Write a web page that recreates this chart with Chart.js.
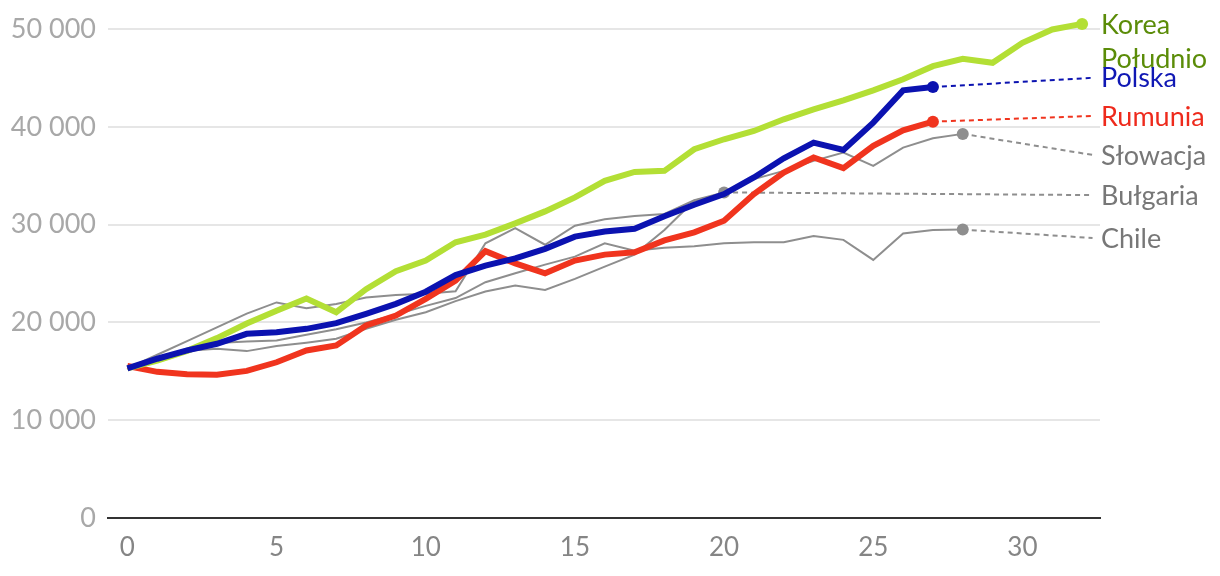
<!DOCTYPE html>
<html>
<head>
<meta charset="utf-8">
<script src="https://cdn.jsdelivr.net/npm/chart.js@4.4.1/dist/chart.umd.min.js"></script>
<style>
    html, body { margin: 0; padding: 0; background: #fff; }
    #wrap { width: 1220px; height: 576px; }
</style>
</head>
<body>
<div id="wrap"><canvas id="chart" width="1220" height="576"></canvas></div>
<script>
// values per year index (0 = start)
const korea = [15300, 16100, 17100, 18400, 19900, 21200, 22450, 21050, 23400, 25240, 26330, 28200, 28980, 30140, 31360, 32790, 34490, 35400, 35510, 37720, 38740, 39590, 40780, 41800, 42720, 43740, 44880, 46220, 46970, 46560, 48600, 49970, 50540];
const polska = [15300, 16290, 17140, 17820, 18840, 19010, 19350, 19930, 20880, 21900, 23150, 24850, 25820, 26560, 27530, 28780, 29310, 29580, 30870, 32040, 33130, 34830, 36800, 38400, 37650, 40440, 43740, 44080];
const rumunia = [15550, 14950, 14700, 14650, 15050, 15930, 17130, 17650, 19690, 20710, 22410, 24290, 27300, 26050, 25030, 26330, 26940, 27180, 28400, 29220, 30410, 33130, 35340, 36870, 35780, 38060, 39660, 40540];
const slowacja = [15300, 16400, 17100, 17300, 17070, 17590, 17930, 18330, 19350, 20270, 21050, 22180, 23160, 23780, 23330, 24460, 25710, 26940, 29450, 32450, 33200, 34660, 35510, 36530, 37380, 36020, 37890, 38840, 39290];
const bulgaria = [15300, 16700, 18100, 19500, 20900, 22050, 21450, 21900, 22550, 22800, 22950, 23200, 28100, 29650, 27950, 29900, 30550, 30900, 31100, 32500, 33300];
const chile = [15300, 16200, 16900, 17890, 18060, 18160, 18740, 19300, 20000, 20800, 21700, 22500, 24120, 25030, 25920, 26730, 28100, 27350, 27650, 27800, 28100, 28200, 28200, 28850, 28450, 26400, 29100, 29450, 29500];

const names = ["Korea", "Polska", "Rumunia", "Słowacja", "Bułgaria", "Chile"];
const labelValues = [50540, 45030, 41120, 37140, 33030, 28640];
const labelX = 32.35;

const xTicks = [0, 5, 10, 15, 20, 25, 30];
const yTicks = [0, 10000, 20000, 30000, 40000, 50000];

const GREEN = "#b3df35", BLUE = "#0b12b0", RED = "#f0341e", GRAY = "#8e8e8e";

function pts(arr) {
    return arr.map((v, i) => ({ x: i, y: v }));
}

function lastDot(r) {
    return ctx => ctx.dataIndex === ctx.dataset.data.length - 1 ? r : 0;
}

function series(arr, color, width, r) {
    return {
        data: pts(arr),
        borderColor: color,
        backgroundColor: color,
        borderWidth: width,
        pointRadius: lastDot(r),
        pointBorderWidth: 0,
        pointHoverRadius: 0,
        tension: 0,
        clip: false,
    };
}

function connector(arr, value, color) {
    return {
        data: [{ x: arr.length - 1, y: arr[arr.length - 1] }, { x: labelX, y: value }],
        borderColor: color,
        borderWidth: 2,
        borderDash: [5, 4],
        pointRadius: 0,
        tension: 0,
        clip: false,
    };
}

// first dataset ends up on top
const datasets = [
    series(polska, BLUE, 6, 6),
    series(korea, GREEN, 6, 6),
    series(rumunia, RED, 6, 6),
    series(slowacja, GRAY, 2, 6),
    series(bulgaria, GRAY, 2, 6),
    series(chile, GRAY, 2, 6),
    connector(polska, labelValues[1], BLUE),
    connector(rumunia, labelValues[2], RED),
    connector(slowacja, labelValues[3], GRAY),
    connector(bulgaria, labelValues[4], GRAY),
    connector(chile, labelValues[5], GRAY),
];

const labelColors = ["#5b8c08", "#1018b4", "#ee2a1c", "#777777", "#777777", "#777777"];

const endLabels = {
    id: "endLabels",
    afterDatasetsDraw(chart) {
        const { ctx, chartArea, scales } = chart;
        ctx.save();
        ctx.font = "27px Lato";
        ctx.textBaseline = "middle";
        ctx.textAlign = "left";
        names.forEach((name, i) => {
            ctx.fillStyle = labelColors[i];
            const y = scales.y.getPixelForValue(labelValues[i]);
            ctx.fillText(name, chartArea.right + 1, y + 1);
            if (i === 0) ctx.fillText("Południo", chartArea.right + 1, y + 35);
        });
        ctx.restore();
    }
};

function spaced(v) {
    return String(v).replace(/\B(?=(\d{3})+(?!\d))/g, " ");
}

new Chart(document.getElementById("chart"), {
    type: "line",
    data: { datasets },
    plugins: [endLabels],
    options: {
        responsive: false,
        animation: false,
        events: [],
        layout: { padding: { top: 8, right: 120, left: 0, bottom: 0 } },
        plugins: { legend: { display: false }, tooltip: { enabled: false } },
        scales: {
            x: {
                type: "linear",
                min: -0.65,
                max: 32.6,
                afterBuildTicks: s => { s.ticks = xTicks.map(v => ({ value: v })); },
                afterFit: s => { s.height = 58; },
                grid: { display: false, drawTicks: false },
                border: { display: true, color: "#333", width: 2 },
                ticks: {
                    color: "#858585",
                    font: { family: "Lato", size: 26 },
                    padding: 14,
                    maxRotation: 0,
                },
            },
            y: {
                min: 0,
                max: 50100,
                afterBuildTicks: s => { s.ticks = yTicks.map(v => ({ value: v })); },
                afterFit: s => { s.width = 108; },
                grid: { color: "#e6e6e6", lineWidth: 2, drawTicks: false },
                border: { display: false },
                ticks: {
                    color: "#a8a8a8",
                    font: { family: "Lato", size: 27 },
                    padding: 12,
                    callback: v => spaced(v),
                },
            },
        },
    },
});
</script>
</body>
</html>
